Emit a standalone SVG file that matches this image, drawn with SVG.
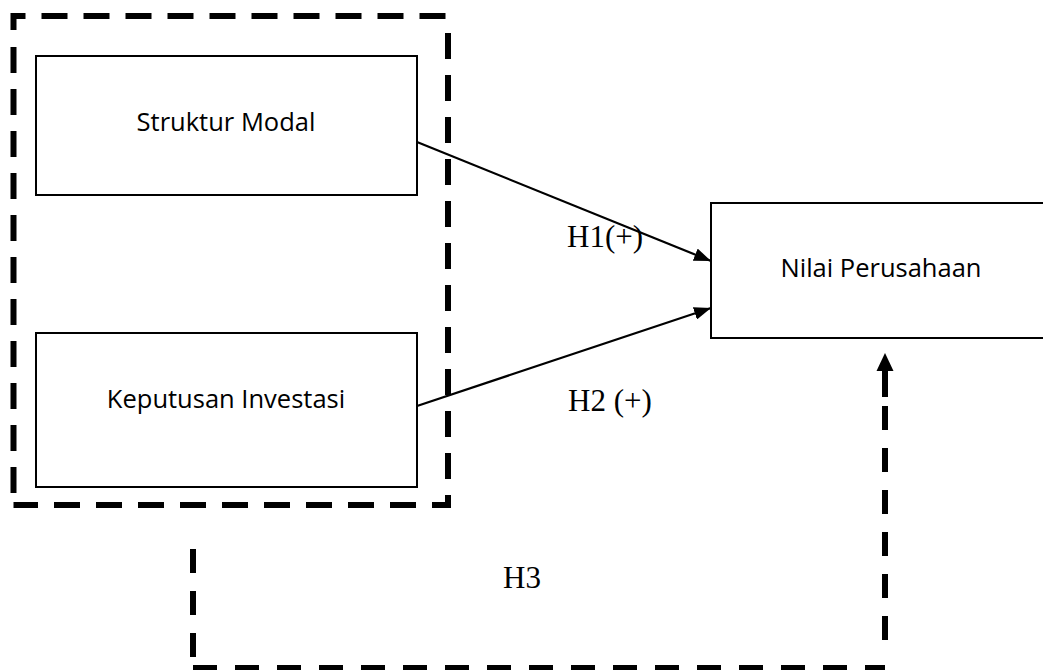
<svg xmlns="http://www.w3.org/2000/svg" width="1043" height="670" viewBox="0 0 1043 670">
<style>
.box{fill:#fff;stroke:#000;stroke-width:2}
.lbl{font-family:"Open Sans","Liberation Sans",sans-serif;font-size:25.5px;fill:#000;text-anchor:middle}
.hyp{font-family:"Liberation Serif","Times New Roman",serif;font-size:31px;fill:#000}
.dash{fill:none;stroke:#000;stroke-width:6;stroke-dasharray:26 16}
.dash2{fill:none;stroke:#000;stroke-width:6;stroke-dasharray:24 18}
.conn{fill:none;stroke:#000;stroke-width:2.2}
</style>
<defs>
<marker id="arr" viewBox="0 0 17 13" refX="17" refY="6.5" markerWidth="17" markerHeight="13" markerUnits="userSpaceOnUse" orient="auto">
<path d="M0 0 L17 6.5 L0 13 Z" fill="#000"/>
</marker>
</defs>
<g id="group-frame">
<path class="dash" d="M13.5 30 V16 H448"/>
<path class="dash" d="M448 33 V505 H13.5"/>
<path class="dash" d="M13.5 47 V493"/>
</g>
<g id="node-struktur">
<rect class="box" x="36" y="56" width="381" height="139"/>
<text class="lbl" x="226" y="131">Struktur Modal</text>
</g>
<g id="node-keputusan">
<rect class="box" x="36" y="333" width="381" height="154"/>
<text class="lbl" x="226" y="408">Keputusan Investasi</text>
</g>
<g id="node-nilai">
<rect class="box" x="711" y="203" width="360" height="135"/>
<text class="lbl" x="881" y="277">Nilai Perusahaan</text>
</g>
<g id="connectors">
<line class="conn" x1="417" y1="142" x2="711" y2="261" marker-end="url(#arr)"/>
<line class="conn" x1="417" y1="406" x2="711" y2="308" marker-end="url(#arr)"/>
<path class="dash2" d="M193 549 V664"/>
<path class="dash2" d="M193 668 H885"/>
<path class="dash2" d="M885 640 V406"/>
<line x1="885" y1="397" x2="885" y2="368" stroke="#000" stroke-width="6"/>
<polygon points="885,353 876.5,371 893.5,371" fill="#000"/>
</g>
<g id="labels">
<text class="hyp" x="567" y="247">H1(+)</text>
<text class="hyp" x="568" y="411">H2 (+)</text>
<text class="hyp" x="503" y="588">H3</text>
</g>
</svg>
